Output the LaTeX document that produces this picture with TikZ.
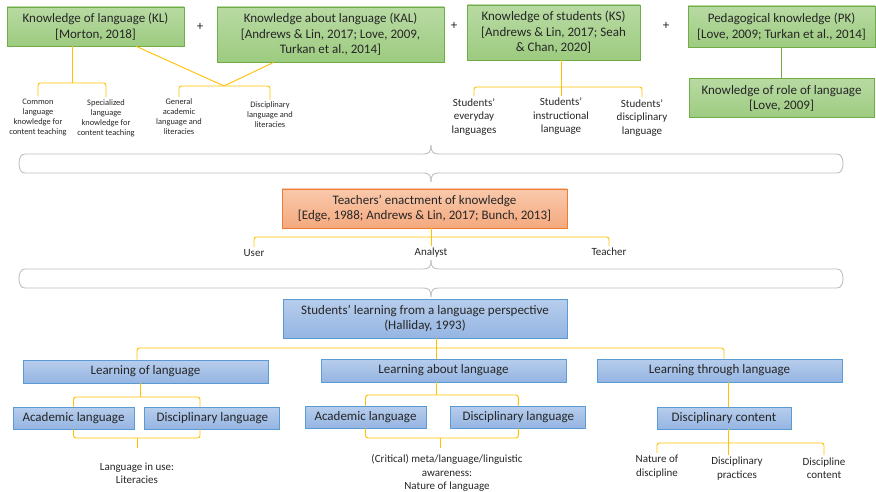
\documentclass[tikz,border=0pt]{standalone}
\usepackage{fontspec}
\setmainfont{Carlito}
\usepackage{tikz}
\usetikzlibrary{positioning,calc}

\definecolor{kgreen}{HTML}{70AD47}
\definecolor{kgreentop}{HTML}{B8DAA3}
\definecolor{kgreenbot}{HTML}{9DCB80}
\definecolor{korange}{HTML}{ED7D31}
\definecolor{korangetop}{HTML}{F9C9AC}
\definecolor{korangebot}{HTML}{F4A97E}
\definecolor{kblue}{HTML}{5B9BD5}
\definecolor{kbluetop}{HTML}{B7CDEC}
\definecolor{kbluebot}{HTML}{95B5E2}
\definecolor{kyellow}{HTML}{FFC000}
\definecolor{kgrey}{HTML}{BFBFBF}

\begin{document}
\begin{tikzpicture}[x=1pt, y=-1pt,
  every node/.style={inner sep=0pt, align=center, text=black!85},
  boxtext/.style={font=\fontsize{13}{15.5}\selectfont},
  greenbox/.style={boxtext, draw=kgreen, line width=0.9pt, top color=kgreentop, bottom color=kgreenbot},
  orangebox/.style={boxtext, draw=korange, line width=0.9pt, top color=korangetop, bottom color=korangebot},
  bluebox/.style={boxtext, draw=kblue, line width=0.9pt, top color=kbluetop, bottom color=kbluebot},
  leaf/.style={font=\fontsize{11}{13.5}\selectfont, inner ysep=2pt},
  tinyleaf/.style={font=\fontsize{8.4}{10}\selectfont, inner ysep=2pt},
  yline/.style={draw=kyellow, line width=0.9pt, rounded corners=2.5pt},
  greyline/.style={draw=kgrey, line width=0.9pt}]
  \useasboundingbox (0,0) rectangle (876,492);

  % knowledge bases
  \node[greenbox, minimum width=177pt, minimum height=39pt] (kl) at (95.5,26.5) {Knowledge of language (KL)\\{[}Morton, 2018]};
  \node[boxtext] (plusa) at (200,27) {+};
  \node[greenbox, minimum width=227pt, minimum height=55pt] (kal) at (330.5,34.5) {Knowledge about language (KAL)\\{[}Andrews \& Lin, 2017; Love, 2009,\\Turkan et al., 2014]};
  \node[boxtext] (plusb) at (454,26) {+};
  \node[greenbox, minimum width=173pt, minimum height=55pt] (ks) at (553.5,32.5) {Knowledge of students (KS)\\{[}Andrews \& Lin, 2017; Seah\\\& Chan, 2020]};
  \node[boxtext] (plusc) at (666,26) {+};
  \node[greenbox, minimum width=187pt, minimum height=41pt] (pk) at (781.5,26.5) {Pedagogical knowledge (PK)\\{[}Love, 2009; Turkan et al., 2014]};
  \node[greenbox, minimum width=185pt, minimum height=39pt, below=31pt of pk] (role) {Knowledge of role of language\\{[}Love, 2009]};

  \node[tinyleaf] (common) at (38,117) {Common\\language\\knowledge for\\content teaching};
  \node[tinyleaf] (special) at (106,118) {Specialized\\language\\knowledge for\\content teaching};
  \node[tinyleaf] (general) at (179,117) {General\\academic\\language and\\literacies};
  \node[tinyleaf] (disclit) at (270,115) {Disciplinary\\language and\\literacies};
  \node[leaf] (everyday) at (474,117) {Students’\\everyday\\languages};
  \node[leaf] (instr) at (561,116.5) {Students’\\instructional\\language};
  \node[leaf] (studdisc) at (642,118) {Students’\\disciplinary\\language};

  % enactment
  \node[orangebox, minimum width=285pt, minimum height=39pt] (enact) at (424.5,208.5) {Teachers’ enactment of knowledge\\{[}Edge, 1988; Andrews \& Lin, 2017; Bunch, 2013]};
  \node[leaf] (user) at (254,253) {User};
  \node[leaf] (analyst) at (431,253) {Analyst};
  \node[leaf] (teacher) at (609,252) {Teacher};

  % students' learning
  \node[bluebox, minimum width=284pt, minimum height=39pt] (learn) at (425,318.5) {Students’ learning from a language perspective\\(Halliday, 1993)};
  \node[bluebox, minimum width=245pt, minimum height=23pt] (lof) at (145.5,371.5) {Learning of language};
  \node[bluebox, minimum width=245pt, minimum height=23pt] (labout) at (443.5,370.5) {Learning about language};
  \node[bluebox, minimum width=245pt, minimum height=23pt] (lthrough) at (719.5,370.5) {Learning through language};
  \node[bluebox, minimum width=121pt, minimum height=22pt] (acada) at (73.5,418) {Academic language};
  \node[bluebox, minimum width=135pt, minimum height=22pt, right=10pt of acada] (discla) {Disciplinary language};
  \node[bluebox, minimum width=121pt, minimum height=22pt] (acadb) at (365.5,417) {Academic language};
  \node[bluebox, minimum width=135pt, minimum height=22pt, right=24pt of acadb] (disclb) {Disciplinary language};
  \node[bluebox, minimum width=134pt, minimum height=22pt] (dcontent) at (724,418) {Disciplinary content};
  \node[leaf] (inuse) at (137,473.5) {Language in use:\\Literacies};
  \node[leaf] (aware) at (447,473) {(Critical) meta/language/linguistic\\awareness:\\Nature of language};
  \node[leaf] (naturedisc) at (657,466.5) {Nature of\\discipline};
  \node[leaf] (practices) at (737,468.5) {Disciplinary\\practices};
  \node[leaf] (dcont) at (824,468) {Discipline\\content};

  % top brackets
  \coordinate (klj) at (72,83);
  \draw[yline] (kl.south -| klj) -- (klj);
  \draw[yline] (common.north) |- (klj) -| (special.north);
  \coordinate (kalj) at (224,86);
  \draw[yline] ($(kl.south west)!0.73!(kl.south east)$) -- (kalj) -- ($(kal.south west)!0.25!(kal.south east)$);
  \draw[yline] (general.north) |- (kalj) -| (disclit.north);
  \coordinate (ksj) at (561,87);
  \draw[yline] (ks.south -| instr.north) -- (instr.north);
  \draw[yline] (everyday.north) |- (ksj) -| (studdisc.north);
  \draw[kgreen, line width=0.9pt] (pk.south) -- (pk.south |- role.north);

  % grey braces
  \foreach \yt/\yb in {154/173, 269/288}
    \foreach \s in {-1,1}
      \draw[greyline] (431,{\yt-9}) .. controls (431,{\yt-2}) and ({431+2*\s},\yt) .. ({431+8*\s},\yt)
        -- ({431+406*\s},\yt) .. controls ({431+410*\s},\yt) and ({431+412*\s},{\yt+4}) .. ({431+412*\s},{(\yt+\yb)/2})
        .. controls ({431+412*\s},{\yb-4}) and ({431+410*\s},\yb) .. ({431+406*\s},\yb)
        -- ({431+8*\s},\yb) .. controls ({431+2*\s},\yb) and (431,{\yb+2}) .. (431,{\yb+9});

  % enactment roles
  \coordinate (enj) at (431,237);
  \draw[yline] (enact.south -| enj) -- (analyst.north);
  \draw[yline] (user.north) |- (enj) -| (teacher.north);

  % learning tree
  \coordinate (lrnj) at (436,348);
  \draw[yline] (learn.south -| lrnj) -- (labout.north -| lrnj);
  \draw[yline] (lof.north -| 137,0) |- (lrnj) -| (lthrough.north -| 724,0);

  \coordinate (lofj) at (140,397);
  \draw[yline] (lof.south -| lofj) -- (lofj);
  \draw[yline] (acada.north) |- (lofj) -| (discla.north -| 200,0);
  \coordinate (lofb) at (137,438);
  \draw[yline] (acada.south) |- (lofb) -| (discla.south -| 200,0);
  \draw[yline] (lofb) -- ++(0,10);

  \coordinate (laboutj) at (436,395);
  \draw[yline] (labout.south -| laboutj) -- (laboutj);
  \draw[yline] (acadb.north) |- (laboutj) -| (disclb.north);
  \coordinate (laboutb) at (440,438);
  \draw[yline] (acadb.south) |- (laboutb) -| (disclb.south);
  \draw[yline] (laboutb) -- ++(0,10);

  \coordinate (dcj) at (728,443);
  \draw[yline] (lthrough.south -| dcj) -- (dcontent.north -| dcj);
  \draw[yline] (dcontent.south -| dcj) -- (dcj |- practices.north);
  \draw[yline] (naturedisc.north) |- (dcj) -| (dcont.north);
\end{tikzpicture}
\end{document}
